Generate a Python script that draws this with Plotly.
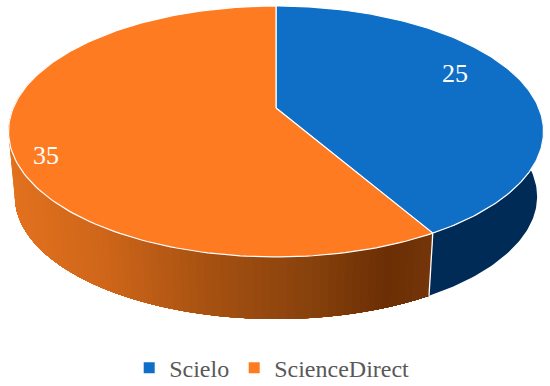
import numpy as np
import plotly.graph_objects as go

labels = ["Scielo", "ScienceDirect"]
values = [25, 35]
top_colors = ["#0F6FC6", "#FF7B22"]
blue_side = "#002B57"
orange_stops_x = [8, 100, 200, 300, 385, 432]
orange_stops_rgb = [(227, 114, 31), (207, 102, 26), (168, 82, 18), (138, 67, 13), (108, 47, 5), (116, 54, 10)]

# projected disc geometry, in page pixels
CX, CY, A, B, K = 276.0, 108.0, 262.8, 121.1, 0.187
BOT_Y, BOT_S = 173.6, 0.976


def project(theta_deg, cy=CY, s=1.0):
    t = np.radians(theta_deg)
    u, v = np.sin(t), -np.cos(t)
    w = 1 - K * v
    return CX + s * A * u / w, cy + s * B * v / w


fracs = np.array(values) / sum(values)
edges = np.concatenate([[0], np.cumsum(fracs) * 360])

fig = go.Figure()


def orange_at(x):
    c = [np.interp(x, orange_stops_x, [p[i] for p in orange_stops_rgb]) for i in range(3)]
    return "rgb(%d,%d,%d)" % tuple(c)


def wall(t0, t1, color):
    th = np.linspace(t0, t1, max(4, int(abs(t1 - t0)) + 2))
    x1, y1 = project(th)
    x2, y2 = project(th[::-1], BOT_Y, BOT_S)
    fig.add_trace(go.Scatter(x=np.r_[x1, x2, x1[0]], y=np.r_[y1, y2, y1[0]], mode="lines",
                             fill="toself", fillcolor=color, line=dict(width=0),
                             showlegend=False, hoverinfo="skip"))


split = edges[1]
wall(70, split, blue_side)
# painted from the far end inwards so that neighbouring bands leave no seams
for end in np.arange(292, split, -1.5):
    xm, _ = project(end)
    wall(split, end, orange_at(xm))

# white seam on the side wall
sx1, sy1 = project(split)
sx2, sy2 = project(split, BOT_Y, BOT_S)
fig.add_trace(go.Scatter(x=[sx1, sx2], y=[sy1, sy2], mode="lines", line=dict(color="white", width=1.3),
                         showlegend=False, hoverinfo="skip"))

# top face
for i, name in enumerate(labels):
    th = np.linspace(edges[i], edges[i + 1], 180)
    x, y = project(th)
    fig.add_trace(go.Scatter(x=np.r_[CX, x, CX], y=np.r_[CY, y, CY], mode="lines", fill="toself",
                             fillcolor=top_colors[i], line=dict(color="white", width=1.2),
                             showlegend=False, hoverinfo="skip", name=name))

# legend entries
for i, name in enumerate(labels):
    fig.add_trace(go.Scatter(x=[None], y=[None], mode="markers", name=name,
                             marker=dict(symbol="square", size=11, color=top_colors[i])))

label_xy = [(455, 73), (46, 155)]
annotations = [dict(x=p[0], y=p[1], text=str(v), showarrow=False, xref="x", yref="y",
                    font=dict(family="Liberation Serif", size=26, color="white"))
               for p, v in zip(label_xy, values)]

fig.update_layout(
    width=550, height=386, margin=dict(l=0, r=0, t=0, b=0, autoexpand=False),
    paper_bgcolor="white", plot_bgcolor="white",
    xaxis=dict(range=[0, 550], visible=False, fixedrange=True, automargin=False),
    yaxis=dict(range=[386, 0], visible=False, fixedrange=True, automargin=False),
    annotations=annotations, showlegend=True,
    legend=dict(orientation="h", x=0.494, xanchor="center", y=-0.012, yanchor="bottom",
                font=dict(family="Liberation Serif", size=24, color="#595959"),
                bgcolor="rgba(0,0,0,0)", itemclick=False, itemdoubleclick=False),
)

fig.write_html("out.html", config={"displayModeBar": False},
               post_script="document.body.style.margin='0';")
